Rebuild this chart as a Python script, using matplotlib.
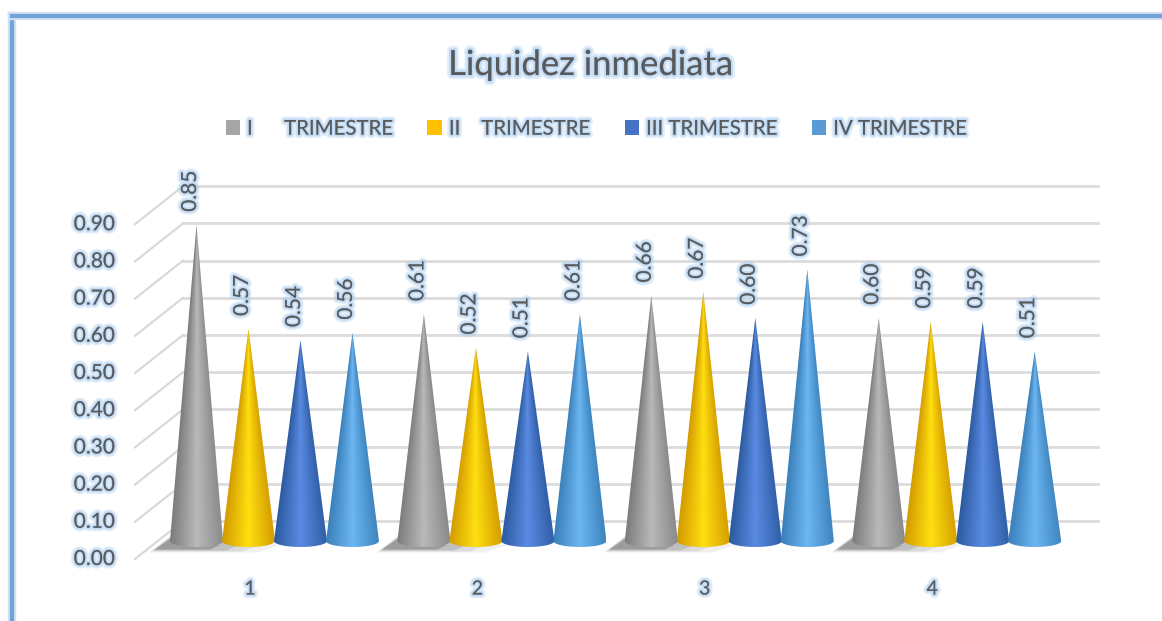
import numpy as np
import matplotlib
matplotlib.use("Agg")
import matplotlib.pyplot as plt
import matplotlib.patheffects as pe
from matplotlib.patches import Polygon, Patch
from matplotlib.colors import LinearSegmentedColormap
from matplotlib.lines import Line2D

plt.rcParams['font.family'] = ['Lato', 'DejaVu Sans']

# Datos
categories = ['1', '2', '3', '4']
series_names = ['I      TRIMESTRE', 'II    TRIMESTRE', 'III TRIMESTRE', 'IV TRIMESTRE']
series_values = [
    [0.85, 0.61, 0.66, 0.60],
    [0.57, 0.52, 0.67, 0.59],
    [0.54, 0.51, 0.60, 0.59],
    [0.56, 0.61, 0.73, 0.51],
]
y_ticks = [0.0, 0.1, 0.2, 0.3, 0.4, 0.5, 0.6, 0.7, 0.8, 0.9]
legend_colors = ['#a5a5a5', '#ffc000', '#4472c4', '#5b9bd5']
shades = [
    ['#7c7c7c', '#b9b9b9', '#8a8a8a'],
    ['#d39b00', '#ffdf10', '#d59f00'],
    ['#2c5aa0', '#5a8be2', '#315fa8'],
    ['#3a80ba', '#6cb6f2', '#3f86c0'],
]

TEXT = '#595959'
GLOW = '#a9cdf0'
W, H = 1162, 621
PX_X = 227.4   # pixeles por categoria
PX_Y = 372.0   # pixeles por unidad
X0_PX = 250    # categoria 1
Y0_PX = 541    # base de los conos


def dx(p):
    return p / PX_X


def dy(p):
    return p / PX_Y


def glow(t, w=5):
    t.set_path_effects([
        pe.withStroke(linewidth=w, foreground=GLOW, alpha=0.35),
        pe.withStroke(linewidth=w * 0.5, foreground=GLOW, alpha=0.55),
    ])
    return t


fig = plt.figure(figsize=(W / 100, H / 100), dpi=100)
ax = fig.add_axes([0, 0, 1, 1])
ax.set_xlim(1 - X0_PX / PX_X, 1 + (W - X0_PX) / PX_X)
ax.set_ylim(-(H - Y0_PX) / PX_Y, Y0_PX / PX_Y)
ax.axis('off')

x_pos = np.arange(1, len(categories) + 1)
xmin = 1 + dx(135 - X0_PX)
xwall = 1 + dx(183 - X0_PX)
xmax = 1 + dx(1098 - X0_PX)
back = dy(20)     # pared del fondo respecto a la base
front = -dy(18)   # borde delantero

# Rejilla
for v in y_ticks:
    ax.plot([xwall, xmax], [v + back, v + back], color='#dcdcdc', lw=2, zorder=1)
    ax.plot([xmin, xwall], [v + front, v + back], color='#d9d9d9', lw=1.6, zorder=1)
    glow(ax.text(xmin - dx(20), v + front, f'{v:.2f}', ha='right', va='center',
                 fontsize=15, color=TEXT, zorder=5))

# Sombras en el suelo
offsets = (np.arange(4) - 1.5) * dx(52) + dx(24.5)
half = dx(26.5)
ell = dy(6)
for c in x_pos:
    left = c + offsets[0] - half
    for k, a, r in zip([7, 5, 3, 1], [0.08, 0.12, 0.18, 0.3], [110, 90, 70, 50]):
        pts = [(left - dx(14 + k), -dy(8 + k / 2)),
               (left + dx(6), dy(6 + k / 2)),
               (left + dx(r), -dy(4)),
               (left + dx(r * 0.8), -dy(8 + k / 2))]
        ax.add_patch(Polygon(pts, closed=True, fc='#4a4a4a', ec='none', alpha=a, zorder=2))

# Conos
for s, vals in enumerate(series_values):
    cmap = LinearSegmentedColormap.from_list('c%d' % s, shades[s])
    for c, v in zip(x_pos, vals):
        xc = c + offsets[s]
        t = np.linspace(0, np.pi, 40)
        outline = [(xc, v)] + [(xc - half * np.cos(a), -ell * np.sin(a)) for a in t]
        patch = Polygon(outline, closed=True, fc='none', ec='none', zorder=3)
        ax.add_patch(patch)
        xs = np.linspace(xc - half, xc + half, 160)
        ys = np.linspace(-ell, v, 400)
        gx, gy = np.meshgrid(xs, ys)
        wid = np.maximum(1 - np.maximum(gy, 0) / v, 1e-3)
        u = np.clip((gx - xc) / (half * wid), -1, 1)
        im = ax.imshow((u + 1) / 2, extent=(xc - half, xc + half, -ell, v), origin='lower',
                       cmap=cmap, vmin=0, vmax=1, aspect='auto', zorder=3, interpolation='bilinear')
        im.set_clip_path(patch)
        glow(ax.text(xc - dx(6.5), v + dy(13), f'{v:.2f}', rotation=90, ha='center', va='bottom',
                     fontsize=15, color=TEXT, zorder=5))

# Eje de categorias
for c, lab in zip(x_pos, categories):
    glow(ax.text(c, dy(-48), lab, ha='center', va='center', fontsize=14, color=TEXT, zorder=5))

# Titulo
glow(ax.text(1 + dx(591 - X0_PX), dy(Y0_PX - 65), 'Liquidez inmediata', ha='center', va='center',
             fontsize=25, color=TEXT, zorder=5), w=6)

# Leyenda
handles = [Patch(fc=col, ec='none', label=n) for col, n in zip(legend_colors, series_names)]
leg = ax.legend(handles=handles, ncols=4, frameon=False, loc='center',
                bbox_to_anchor=(596 / W, 1 - 129 / H), fontsize=14.7, handlelength=0.7,
                handleheight=0.7, handletextpad=0.35, columnspacing=1.7, labelcolor=TEXT)
for t in leg.get_texts():
    glow(t)

# Marco
for xs, ys in [([12, 12], [H, 16]), ([12, W], [16, 16])]:
    fx = [p / W for p in xs]
    fy = [1 - p / H for p in ys]
    fig.add_artist(Line2D(fx, fy, color='#cfe0f2', lw=6, solid_capstyle='projecting'))
    fig.add_artist(Line2D(fx, fy, color='#6fa3d9', lw=3, solid_capstyle='projecting'))

fig.savefig('out.png', dpi=100)
